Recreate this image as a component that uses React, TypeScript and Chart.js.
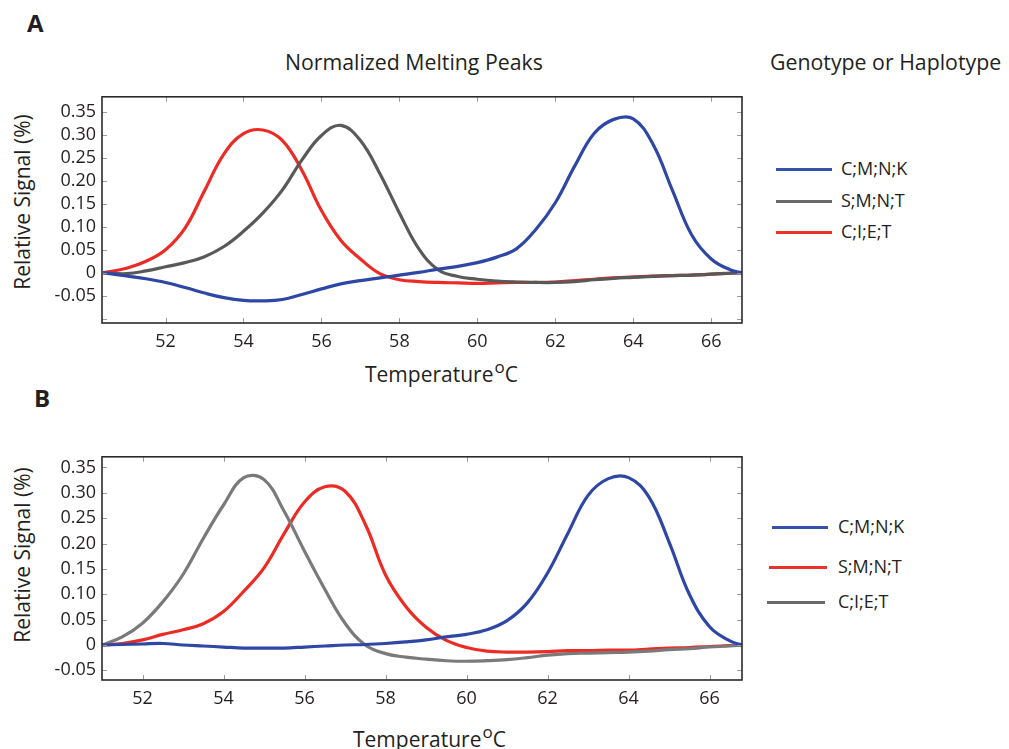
import React, { useEffect, useRef } from 'react';
import { Chart, registerables } from 'chart.js';

Chart.register(...registerables);

const FONT = '"Open Sans", "Noto Sans", sans-serif';
const INK = '#231f20';

// ---------- Panel A data ----------
const tempA = [50.4, 51, 51.5, 52, 52.5, 53, 53.5, 54, 54.5, 55, 55.5, 56, 56.5, 57, 57.5, 58, 58.5, 59, 59.5, 60, 60.5, 61, 61.5, 62, 62.5, 63, 63.5, 64, 64.5, 65, 65.5, 66, 66.5, 66.8];
const blueA_CMNK = [0, -0.007, -0.013, -0.021, -0.032, -0.044, -0.054, -0.06, -0.061, -0.058, -0.047, -0.035, -0.024, -0.017, -0.011, -0.005, 0.001, 0.008, 0.014, 0.022, 0.034, 0.052, 0.094, 0.152, 0.232, 0.303, 0.333, 0.334, 0.28, 0.18, 0.082, 0.03, 0.006, 0];
const grayA_SMNT = [0, -0.002, 0.004, 0.013, 0.022, 0.035, 0.057, 0.09, 0.13, 0.18, 0.245, 0.298, 0.32, 0.287, 0.215, 0.13, 0.052, 0.006, -0.008, -0.014, -0.018, -0.02, -0.021, -0.021, -0.019, -0.015, -0.012, -0.01, -0.008, -0.006, -0.005, -0.003, -0.001, 0];
const redA_CIET = [0, 0.01, 0.025, 0.05, 0.097, 0.178, 0.258, 0.302, 0.31, 0.287, 0.222, 0.135, 0.07, 0.03, -0.002, -0.015, -0.019, -0.021, -0.022, -0.023, -0.022, -0.021, -0.021, -0.02, -0.017, -0.014, -0.011, -0.009, -0.007, -0.006, -0.005, -0.003, -0.001, 0];

// ---------- Panel B data ----------
const tempB = [51, 51.5, 52, 52.5, 53, 53.5, 54, 54.5, 55, 55.5, 56, 56.5, 57, 57.5, 58, 58.5, 59, 59.5, 60, 60.5, 61, 61.5, 62, 62.5, 63, 63.5, 64, 64.5, 65, 65.5, 66, 66.5, 66.8];
const blueB_CMNK = [0, 0.001, 0.002, 0.003, 0, -0.002, -0.004, -0.006, -0.006, -0.006, -0.004, -0.002, 0, 0.001, 0.003, 0.006, 0.01, 0.016, 0.021, 0.03, 0.048, 0.083, 0.142, 0.22, 0.295, 0.328, 0.33, 0.292, 0.203, 0.1, 0.036, 0.008, 0];
const redB_SMNT = [0, 0.003, 0.01, 0.021, 0.03, 0.042, 0.066, 0.106, 0.152, 0.22, 0.282, 0.312, 0.303, 0.238, 0.138, 0.076, 0.035, 0.009, -0.005, -0.012, -0.014, -0.014, -0.013, -0.011, -0.011, -0.01, -0.01, -0.008, -0.006, -0.005, -0.003, -0.001, 0];
const grayB_CIET = [0, 0.016, 0.043, 0.085, 0.139, 0.21, 0.276, 0.33, 0.326, 0.263, 0.185, 0.11, 0.043, 0, -0.017, -0.024, -0.028, -0.031, -0.032, -0.031, -0.029, -0.025, -0.02, -0.017, -0.016, -0.015, -0.014, -0.012, -0.009, -0.007, -0.004, -0.002, 0];

// ---------- Ticks ----------
const xTicks = [52, 54, 56, 58, 60, 62, 64, 66];
const yTicksA = [-0.1, -0.05, 0, 0.05, 0.1, 0.15, 0.2, 0.25, 0.3, 0.35];
const yTicksB = [-0.05, 0, 0.05, 0.1, 0.15, 0.2, 0.25, 0.3, 0.35];

// ---------- Legends ----------
const legendLabelsA = ['C;M;N;K', 'S;M;N;T', 'C;I;E;T'];
const legendLabelsB = ['C;M;N;K', 'S;M;N;T', 'C;I;E;T'];

const BLUE = '#2e47a5';
const GRAY = '#595959';
const GRAY_B = '#7a7a7a';
const RED = '#ec2b24';

const boxPlugin = {
  id: 'boxTicks',
  afterDraw(chart: any) {
    const { ctx, chartArea, scales } = chart;
    const { left, right, top, bottom } = chartArea;
    const x = scales.x;
    const y = scales.y;
    ctx.save();
    ctx.strokeStyle = '#9a9a9a';
    ctx.lineWidth = 1;
    const L = 5;
    x.ticks.forEach((t: any) => {
      const px = Math.round(x.getPixelForValue(t.value)) + 0.5;
      ctx.beginPath();
      ctx.moveTo(px, bottom); ctx.lineTo(px, bottom - L);
      ctx.moveTo(px, top); ctx.lineTo(px, top + L);
      ctx.stroke();
    });
    y.ticks.forEach((t: any) => {
      const py = Math.round(y.getPixelForValue(t.value)) + 0.5;
      ctx.beginPath();
      ctx.moveTo(left, py); ctx.lineTo(left + L, py);
      ctx.moveTo(right, py); ctx.lineTo(right - L, py);
      ctx.stroke();
    });
    ctx.strokeStyle = '#2a2a2a';
    ctx.lineWidth = 1.6;
    ctx.strokeRect(left, top, right - left, bottom - top);
    ctx.restore();
  },
};

type Series = { values: number[]; color: string };

function Panel(props: {
  temps: number[];
  series: Series[];
  xMin: number; xMax: number; yMin: number; yMax: number;
  yTicks: number[];
  padTop: number; xAxisH: number; top: number;
}) {
  const ref = useRef<HTMLCanvasElement | null>(null);
  useEffect(() => {
    const { temps, series } = props;
    const datasets: any[] = [];
    series.forEach((s) => {
      const pts = temps.map((t, i) => ({ x: t, y: s.values[i] }));
      datasets.push({ data: pts, borderColor: s.color, borderWidth: 3.2, pointRadius: 0, fill: false, tension: 0.4 });
      datasets.push({ data: pts, borderColor: 'rgba(255,255,255,0.9)', borderWidth: 1.2, pointRadius: 0, fill: false, tension: 0.4 });
    });
    const chart = new Chart(ref.current as HTMLCanvasElement, {
      type: 'line',
      data: { datasets },
      plugins: [boxPlugin],
      options: {
        animation: false,
        responsive: false,
        maintainAspectRatio: false,
        layout: { padding: { top: props.padTop, right: 18, left: 0, bottom: 0 } },
        plugins: { legend: { display: false }, tooltip: { enabled: false } },
        scales: {
          x: {
            type: 'linear',
            min: props.xMin,
            max: props.xMax,
            grid: { display: false, drawTicks: false },
            border: { display: false },
            ticks: {
              font: { family: FONT, size: 18 },
              color: INK,
              padding: 8,
              maxRotation: 0,
              autoSkip: false,
              callback: (v: any) => String(v),
            },
            afterBuildTicks: (s: any) => { s.ticks = xTicks.map((v) => ({ value: v })); },
            afterFit: (s: any) => { s.height = props.xAxisH; },
          },
          y: {
            type: 'linear',
            min: props.yMin,
            max: props.yMax,
            grid: { display: false, drawTicks: false },
            border: { display: false },
            ticks: {
              font: { family: FONT, size: 18 },
              color: INK,
              padding: 6,
              autoSkip: false,
              callback: (v: any) => {
                const n = Number(v);
                if (n < -0.075) return '';
                if (Math.abs(n) < 1e-9) return '0';
                return n.toFixed(2);
              },
            },
            afterBuildTicks: (s: any) => { s.ticks = props.yTicks.map((v) => ({ value: v })); },
            afterFit: (s: any) => { s.width = 102; },
          },
        },
      } as any,
    });
    return () => chart.destroy();
  }, []);
  return (
    <canvas
      ref={ref}
      width={760}
      height={275}
      style={{ position: 'absolute', left: 0, top: props.top, width: 760, height: 275 }}
    />
  );
}

const textBase: React.CSSProperties = {
  position: 'absolute',
  fontFamily: FONT,
  color: INK,
  whiteSpace: 'nowrap',
  lineHeight: 1,
};

function TempLabel({ left, top }: { left: number; top: number }) {
  return (
    <div style={{ ...textBase, left, top, fontSize: 21 }}>
      Temperature<span style={{ fontSize: 17, position: 'relative', top: -9, marginLeft: 1 }}>o</span>C
    </div>
  );
}

function Legend({ labels, colors, lines, textLeft }: { labels: string[]; colors: string[]; lines: { x1: number; x2: number; y: number }[]; textLeft: number }) {
  return (
    <>
      {labels.map((lab, i) => (
        <React.Fragment key={i}>
          <div style={{ position: 'absolute', left: lines[i].x1, top: lines[i].y - 1.5, width: lines[i].x2 - lines[i].x1, height: 3, background: colors[i] }} />
          <div style={{ ...textBase, fontSize: 18, left: textLeft, top: lines[i].y - 10 }}>{lab}</div>
        </React.Fragment>
      ))}
    </>
  );
}

export default function App() {
  return (
    <div style={{ position: 'absolute', left: 0, top: 0, width: 1009, height: 749, background: '#fff', overflow: 'hidden' }}>
      <div style={{ ...textBase, left: 27, top: 11, fontSize: 24, fontWeight: 700 }}>A</div>
      <div style={{ ...textBase, left: 34, top: 386, fontSize: 24, fontWeight: 700 }}>B</div>
      <div style={{ ...textBase, left: 285, top: 51, fontSize: 21.3 }}>Normalized Melting Peaks</div>
      <div style={{ ...textBase, left: 770, top: 51, fontSize: 21.3 }}>Genotype or Haplotype</div>

      <div style={{ ...textBase, left: 21.5, top: 202, fontSize: 21, transform: 'translate(-50%, -50%) rotate(-90deg)' }}>Relative Signal (%)</div>
      <div style={{ ...textBase, left: 21.5, top: 555, fontSize: 21, transform: 'translate(-50%, -50%) rotate(-90deg)' }}>Relative Signal (%)</div>

      <Panel
        temps={tempA}
        series={[
          { values: blueA_CMNK, color: BLUE },
          { values: grayA_SMNT, color: GRAY },
          { values: redA_CIET, color: RED },
        ]}
        xMin={50.37} xMax={66.79} yMin={-0.109} yMax={0.382}
        yTicks={yTicksA}
        padTop={13} xAxisH={32} top={80}
      />
      <Panel
        temps={tempB}
        series={[
          { values: blueB_CMNK, color: BLUE },
          { values: grayB_CIET, color: GRAY_B },
          { values: redB_SMNT, color: RED },
        ]}
        xMin={51.0} xMax={66.8} yMin={-0.069} yMax={0.371}
        yTicks={yTicksB}
        padTop={10} xAxisH={35} top={440}
      />

      <TempLabel left={365} top={364} />
      <TempLabel left={353} top={729} />

      <Legend
        labels={legendLabelsA}
        colors={['#3552a8', '#6a6a6a', '#e8332b']}
        lines={[{ x1: 776, x2: 832, y: 169 }, { x1: 776, x2: 832, y: 201 }, { x1: 776, x2: 832, y: 232 }]}
        textLeft={841}
      />
      <Legend
        labels={legendLabelsB}
        colors={['#3552a8', '#e8332b', '#6a6a6a']}
        lines={[{ x1: 772, x2: 828, y: 527 }, { x1: 769, x2: 827, y: 567 }, { x1: 767, x2: 825, y: 602 }]}
        textLeft={838}
      />
    </div>
  );
}
